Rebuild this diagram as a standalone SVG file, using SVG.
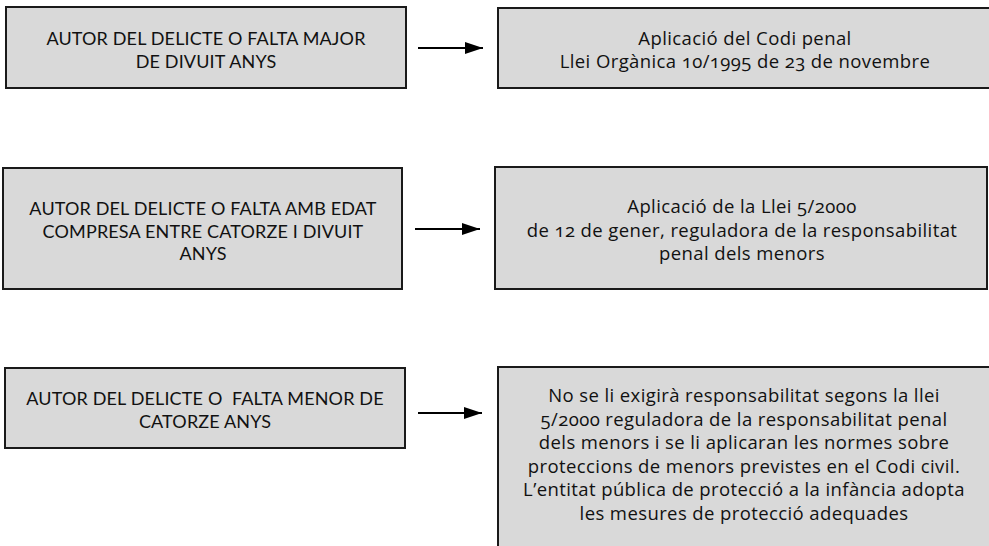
<svg xmlns="http://www.w3.org/2000/svg" width="989" height="546" viewBox="0 0 989 546">
<style>
  .box { fill: #d9d9d9; stroke: #1a1a1a; stroke-width: 2; }
  .lt { font-family: Lato, "Liberation Sans", sans-serif; font-size: 18px; letter-spacing: 0.15px; fill: #111; text-anchor: middle; }
  .rt { font-family: "Open Sans", "Liberation Sans", sans-serif; font-size: 18.5px; letter-spacing: 0.4px; fill: #111; text-anchor: middle; font-variant-numeric: oldstyle-nums; }
  .conn { stroke: #000; stroke-width: 2.2; fill: none; }
</style>
<defs>
  <marker id="arr" viewBox="0 0 18 12" refX="18" refY="6" markerWidth="18" markerHeight="12" markerUnits="userSpaceOnUse" orient="auto">
    <path d="M0,0 L18,6 L0,12 Z" fill="#000"/>
  </marker>
</defs>
<rect width="989" height="546" fill="#fff"/>
<g id="n1">
  <rect class="box" x="6" y="7" width="400" height="81"/>
  <text class="lt" x="206" y="45">AUTOR DEL DELICTE O FALTA MAJOR</text>
  <text class="lt" x="206" y="68">DE DIVUIT ANYS</text>
</g>
<g id="n2">
  <rect class="box" x="498" y="8" width="494" height="80"/>
  <text class="rt" x="745" y="45">Aplicació del Codi penal</text>
  <text class="rt" x="745" y="68">Llei Orgànica 10/1995 de 23 de novembre</text>
</g>
<g id="n3">
  <rect class="box" x="3" y="168" width="399" height="121"/>
  <text class="lt" x="203" y="215">AUTOR DEL DELICTE O FALTA AMB EDAT</text>
  <text class="lt" x="203" y="238">COMPRESA ENTRE CATORZE I DIVUIT</text>
  <text class="lt" x="203" y="260">ANYS</text>
</g>
<g id="n4">
  <rect class="box" x="495" y="167" width="492" height="122"/>
  <text class="rt" x="742" y="213">Aplicació de la Llei 5/2000</text>
  <text class="rt" x="742" y="237">de 12 de gener, reguladora de la responsabilitat</text>
  <text class="rt" x="742" y="260">penal dels menors</text>
</g>
<g id="n5">
  <rect class="box" x="5" y="368" width="400" height="80"/>
  <text class="lt" x="205" y="405" xml:space="preserve">AUTOR DEL DELICTE O  FALTA MENOR DE</text>
  <text class="lt" x="205" y="428">CATORZE ANYS</text>
</g>
<g id="n6">
  <rect class="box" x="498" y="367" width="496" height="190"/>
  <text class="rt" x="744" y="402">No se li exigirà responsabilitat segons la llei</text>
  <text class="rt" x="744" y="425.5">5/2000 reguladora de la responsabilitat penal</text>
  <text class="rt" x="744" y="449">dels menors i se li aplicaran les normes sobre</text>
  <text class="rt" x="744" y="472.5">proteccions de menors previstes en el Codi civil.</text>
  <text class="rt" x="744" y="496">L’entitat pública de protecció a la infància adopta</text>
  <text class="rt" x="744" y="519.5">les mesures de protecció adequades</text>
</g>
<g id="connectors">
  <line class="conn" x1="418" y1="48" x2="483" y2="48" marker-end="url(#arr)"/>
  <line class="conn" x1="415" y1="229" x2="480" y2="229" marker-end="url(#arr)"/>
  <line class="conn" x1="418" y1="413" x2="482" y2="413" marker-end="url(#arr)"/>
</g>
</svg>
